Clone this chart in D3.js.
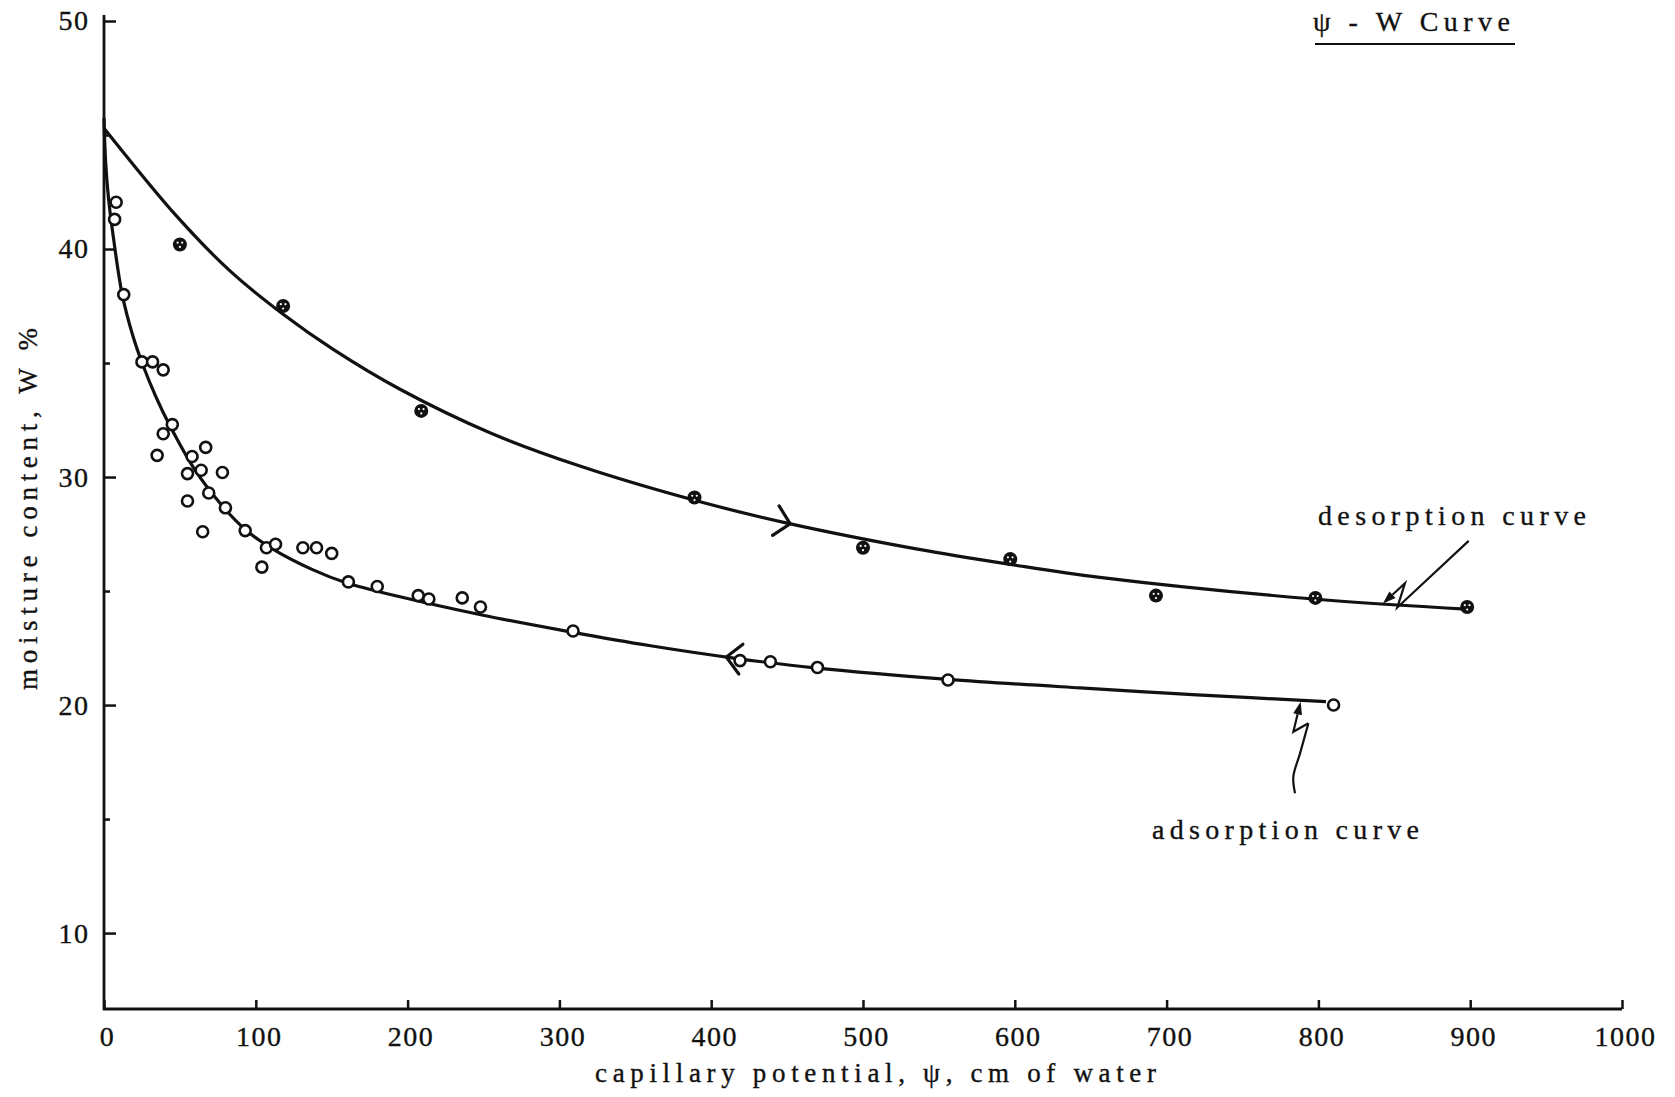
<!DOCTYPE html>
<html>
<head>
<meta charset="utf-8">
<script src="https://cdn.jsdelivr.net/npm/d3@7"></script>
<style>
  body { margin: 0; background: #fff; }
  svg { display: block; }
</style>
</head>
<body>
<div id="chart"></div>
<script>
// psi = capillary potential (cm of water), W = moisture content (%)
const desorptionPsi = [50, 118, 209, 389, 500, 597, 693, 798, 898];
const desorptionW   = [40.2, 37.5, 32.9, 29.1, 26.9, 26.4, 24.8, 24.7, 24.3];

const adsorptionPsi = [8, 7, 13, 25, 32, 39, 39, 45, 35, 67, 58, 55, 64, 78, 55, 69, 80, 65, 93,
  107, 113, 104, 131, 140, 150, 161, 180, 207, 214, 236, 248, 309, 419, 439, 470, 556, 810];
const adsorptionW = [42.05, 41.3, 38.0, 35.05, 35.05, 34.7, 31.9, 32.3, 30.95, 31.3, 30.9, 30.15, 30.3, 30.2, 28.95, 29.3, 28.65, 27.6, 27.65,
  26.9, 27.05, 26.05, 26.9, 26.9, 26.65, 25.4, 25.2, 24.8, 24.65, 24.7, 24.3, 23.25, 21.95, 21.9, 21.65, 21.1, 20.0];

// the hand-faired curves
const desorptionCurvePsi = [0, 48, 83, 118, 151, 195, 255, 314, 389, 450, 535, 597, 656, 797, 900];
const desorptionCurveW   = [45.3, 41.43, 39.04, 37.14, 35.6, 33.85, 31.92, 30.47, 28.98, 27.98, 26.85, 26.17, 25.6, 24.65, 24.2];
const adsorptionCurvePsi = [0, 1, 3, 6, 12, 19, 26, 34, 43, 60, 79, 93, 111, 137, 160, 195, 249, 308, 360, 416, 470, 556, 643, 720, 805];
const adsorptionCurveW   = [45.75, 43.9, 42.2, 40.6, 38.0, 36.2, 34.85, 33.55, 32.3, 30.3, 28.65, 27.7, 26.85, 25.95, 25.35, 24.75, 23.95, 23.2, 22.6, 22.05, 21.62, 21.13, 20.75, 20.45, 20.15];

// direction arrows on the curves
const arrowPsi = [452, 410];
const arrowDir = [1, -1];

// squiggly leaders from the labels to the curves
const desLeaderPsi = [899, 852, 857];
const desLeaderW   = [27.2, 24.28, 25.34];
const desLeaderTip = [842.5, 24.45];
const adsLeaderPsi = [784.6, 783.5, 787.9, 793.4, 783.5];
const adsLeaderW   = [16.13, 16.86, 17.88, 19.2, 18.83];
const adsLeaderTip = [788.3, 20.15];

const xTicks = [0, 100, 200, 300, 400, 500, 600, 700, 800, 900, 1000];
const yTicks = [10, 20, 30, 40, 50];
const yMinorTicks = [15, 25, 35, 45];

const W = 1675, H = 1097;
const margin = {top: 21, right: 53, bottom: 88, left: 104};
const yBottom = 6.67;
const ink = "#111";
const font = "Liberation Serif";

const svg = d3.select("#chart").append("svg").attr("width", W).attr("height", H)
  .style("background", "#fff");

const x = d3.scaleLinear().domain([0, 1000]).range([margin.left, W - margin.right]);
const y = d3.scaleLinear().domain([yBottom, 50]).range([H - margin.bottom, margin.top]);

// axes
const yAxis = svg.append("g").attr("transform", `translate(${x(0)},0)`)
  .call(d3.axisLeft(y).tickValues(yTicks).tickSize(-12).tickPadding(13).tickFormat(d3.format("d")));
const yMinor = svg.append("g").attr("transform", `translate(${x(0)},0)`)
  .call(d3.axisLeft(y).tickValues(yMinorTicks).tickSize(-6).tickFormat(""));
const xAxis = svg.append("g").attr("transform", `translate(0,${y(yBottom)})`)
  .call(d3.axisBottom(x).tickValues(xTicks).tickSize(-9).tickPadding(17).tickFormat(d3.format("d")));

[yAxis, yMinor, xAxis].forEach(g => {
  g.select(".domain").remove();
  g.attr("font-family", font).attr("font-size", 28);
  g.selectAll("line").attr("stroke", ink).attr("stroke-width", 2.5);
  g.selectAll("text").attr("fill", ink).attr("stroke", ink).attr("stroke-width", 0.35)
    .style("letter-spacing", "1.5px");
});
yAxis.selectAll("text").attr("dx", "-1.5px");
xAxis.selectAll("text").attr("dx", "3px");

svg.append("line")
  .attr("x1", x(0)).attr("x2", x(0))
  .attr("y1", y(yBottom) + 1).attr("y2", y(50) - 6)
  .attr("stroke", ink).attr("stroke-width", 2.8);
svg.append("line")
  .attr("x1", x(0) - 1).attr("x2", x(1000))
  .attr("y1", y(yBottom)).attr("y2", y(yBottom))
  .attr("stroke", ink).attr("stroke-width", 2.8);

// curves
const line = d3.line().x(d => x(d[0])).y(d => y(d[1])).curve(d3.curveCatmullRom.alpha(0.5));

const desPath = svg.append("path")
  .attr("d", line(d3.zip(desorptionCurvePsi, desorptionCurveW)))
  .attr("fill", "none").attr("stroke", ink).attr("stroke-width", 3.2);
const adsPath = svg.append("path")
  .attr("d", line(d3.zip(adsorptionCurvePsi, adsorptionCurveW)))
  .attr("fill", "none").attr("stroke", ink).attr("stroke-width", 3.2);

function lengthAtX(node, px) {
  let lo = 0, hi = node.getTotalLength();
  for (let i = 0; i < 40; i++) {
    const mid = (lo + hi) / 2;
    if (node.getPointAtLength(mid).x < px) lo = mid; else hi = mid;
  }
  return lo;
}

function chevron(node, psi, dir) {
  const L = lengthAtX(node, x(psi));
  const p = node.getPointAtLength(L);
  const a = node.getPointAtLength(L - 4), b = node.getPointAtLength(L + 4);
  let ang = Math.atan2(b.y - a.y, b.x - a.x);
  if (dir < 0) ang += Math.PI;
  const len = 21, spread = 0.8;
  const p1 = [p.x - len * Math.cos(ang - spread), p.y - len * Math.sin(ang - spread)];
  const p2 = [p.x - len * Math.cos(ang + spread), p.y - len * Math.sin(ang + spread)];
  svg.append("path")
    .attr("d", `M${p1}L${p.x},${p.y}L${p2}`)
    .attr("fill", "none").attr("stroke", ink).attr("stroke-width", 3.2)
    .attr("stroke-linecap", "round").attr("stroke-linejoin", "miter");
}
[desPath, adsPath].forEach((p, i) => chevron(p.node(), arrowPsi[i], arrowDir[i]));

// leaders
function arrowHead(from, tip, size, half) {
  const dx = tip[0] - from[0], dy = tip[1] - from[1];
  const d = Math.hypot(dx, dy), ux = dx / d, uy = dy / d;
  const bx = tip[0] - ux * size, by = tip[1] - uy * size;
  svg.append("path")
    .attr("d", `M${tip}L${bx - uy * half},${by + ux * half}L${bx + uy * half},${by - ux * half}Z`)
    .attr("fill", ink);
  return [bx, by];
}

const desPts = d3.zip(desLeaderPsi, desLeaderW).map(d => [x(d[0]), y(d[1])]);
const desTip = [x(desLeaderTip[0]), y(desLeaderTip[1])];
const desBase = arrowHead(desPts[desPts.length - 1], desTip, 13, 4.5);
svg.append("path")
  .attr("d", d3.line()(desPts.concat([desBase])))
  .attr("fill", "none").attr("stroke", ink).attr("stroke-width", 2.2).attr("stroke-linejoin", "miter");

const adsPts = d3.zip(adsLeaderPsi, adsLeaderW).map(d => [x(d[0]), y(d[1])]);
const adsTip = [x(adsLeaderTip[0]), y(adsLeaderTip[1])];
svg.append("path")
  .attr("d", d3.line().curve(d3.curveCatmullRom)(adsPts.slice(0, 4)))
  .attr("fill", "none").attr("stroke", ink).attr("stroke-width", 2.2);
const adsBase = arrowHead(adsPts[adsPts.length - 1], adsTip, 13, 4.5);
svg.append("path")
  .attr("d", d3.line()([adsPts[3], adsPts[4], adsBase]))
  .attr("fill", "none").attr("stroke", ink).attr("stroke-width", 2.2).attr("stroke-linejoin", "miter");

// points
svg.append("g").selectAll("circle")
  .data(d3.zip(adsorptionPsi, adsorptionW))
  .enter().append("circle")
  .attr("cx", d => x(d[0])).attr("cy", d => y(d[1])).attr("r", 5.5)
  .attr("fill", "#fff").attr("stroke", ink).attr("stroke-width", 2.6);

const des = svg.append("g").selectAll("g")
  .data(d3.zip(desorptionPsi, desorptionW))
  .enter().append("g")
  .attr("transform", d => `translate(${x(d[0])},${y(d[1])})`);
des.append("circle").attr("r", 7).attr("fill", ink);
[[-2.3, -1.8], [2.3, -1.8], [0, 2.5]].forEach(o => {
  des.append("circle").attr("cx", o[0]).attr("cy", o[1]).attr("r", 1.1).attr("fill", "#fff");
});

// text
function label(tx, ty, str, len, size, extra) {
  const t = svg.append("text")
    .attr("x", tx).attr("y", ty)
    .attr("font-family", font).attr("font-size", size).attr("fill", ink)
    .attr("stroke", ink).attr("stroke-width", 0.35)
    .attr("textLength", len).attr("lengthAdjust", "spacing")
    .text(str);
  if (extra) extra(t);
  return t;
}

label(1313, 31, "\u03c8 - W Curve", 197, 28);
svg.append("line").attr("x1", 1315).attr("x2", 1515).attr("y1", 44).attr("y2", 44)
  .attr("stroke", ink).attr("stroke-width", 2.2);

label(1318, 525, "desorption curve", 268, 28);
label(1152, 839, "adsorption curve", 267, 28);

label(595, 1082, "capillary potential, \u03c8, cm of water", 561, 27);
label(0, 0, "moisture content, W %", 362, 27, t => t
  .attr("text-anchor", "middle")
  .attr("transform", "translate(37,509) rotate(-90)"));
</script>
</body>
</html>
